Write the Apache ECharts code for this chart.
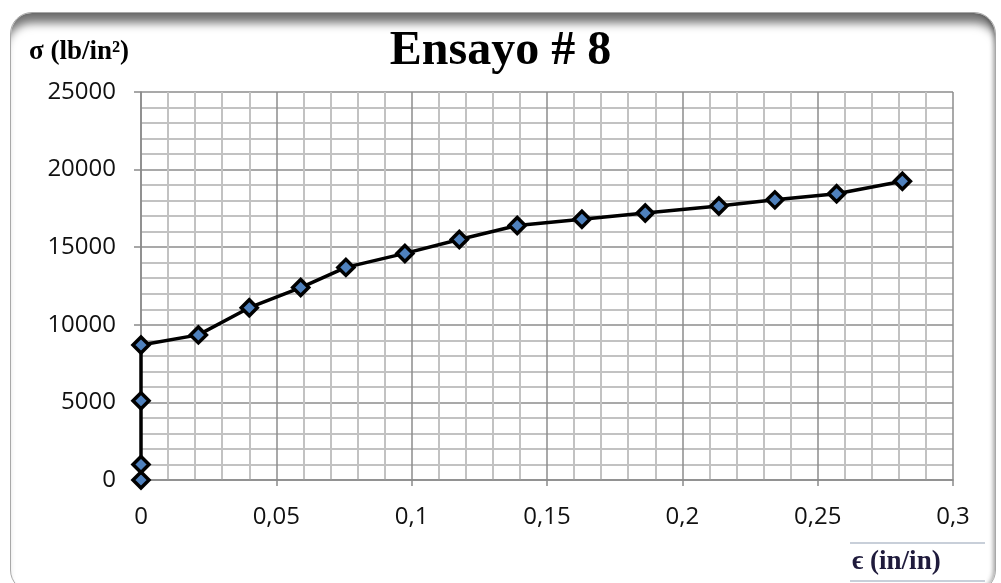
<!DOCTYPE html>
<html>
<head>
<meta charset="utf-8">
<script src="https://cdn.jsdelivr.net/npm/echarts@6/dist/echarts.min.js"></script>
<style>
  html, body { margin: 0; padding: 0; background: #fff; }
  #frame {
    position: absolute; left: 10px; top: 12px; width: 986px; height: 580px;
    border: 1.5px solid #a8a8a8; border-radius: 22px; box-sizing: border-box;
    box-shadow: inset 0 16px 10px -6px rgba(0,0,0,0.55), inset -3px 0 4px -1px rgba(0,0,0,0.3);
  }
  #chart { position: absolute; left: 0; top: 0; width: 1001px; height: 583px; }
</style>
</head>
<body>
<div id="frame"></div>
<div id="chart"></div>
<script>
const titleText = 'Ensayo # 8';
const yName = 'σ (lb/in²)';
const xName = 'ϵ (in/in)';
const strain = [0, 0, 0, 0, 0.0212, 0.0400, 0.0590, 0.0757, 0.0975, 0.1176, 0.1390, 0.1629, 0.1863, 0.2135, 0.2342, 0.2570, 0.2813];
const stress = [0, 1000, 5100, 8700, 9350, 11100, 12400, 13700, 14600, 15500, 16400, 16800, 17200, 17650, 18050, 18450, 19250];

const chart = echarts.init(document.getElementById('chart'), null, { renderer: 'canvas' });
const labelFont = { fontFamily: 'Open Sans', fontSize: 24, color: '#111' };
chart.setOption({
  animation: false,
  backgroundColor: 'transparent',
  grid: { left: 141, right: 48, top: 92, bottom: 103, containLabel: false },
  xAxis: {
    type: 'value', min: 0, max: 0.3, interval: 0.05,
    axisLine: { show: true, onZero: false, lineStyle: { color: '#8a8a8a', width: 1.5 } },
    axisTick: { show: true, length: 6, lineStyle: { color: '#8a8a8a', width: 1.5 } },
    axisLabel: Object.assign({ margin: 25, formatter: v => String(+v.toFixed(2)).replace('.', ',') }, labelFont),
    splitLine: { show: true, lineStyle: { color: '#8c8c8c', width: 1.5 } },
    minorTick: { show: false, splitNumber: 5 },
    minorSplitLine: { show: true, lineStyle: { color: '#c2c2c2', width: 2 } }
  },
  yAxis: {
    type: 'value', min: 0, max: 25000, interval: 5000,
    axisLine: { show: true, lineStyle: { color: '#8a8a8a', width: 1.5 } },
    axisTick: { show: true, length: 7, lineStyle: { color: '#8a8a8a', width: 1.5 } },
    axisLabel: Object.assign({ margin: 25, formatter: v => String(v) }, labelFont),
    splitLine: { show: true, lineStyle: { color: '#8c8c8c', width: 1.5 } },
    minorTick: { show: false, splitNumber: 5 },
    minorSplitLine: { show: true, lineStyle: { color: '#c2c2c2', width: 2 } }
  },
  series: [{
    type: 'line',
    data: strain.map((x, i) => [x, stress[i]]),
    lineStyle: { color: '#000', width: 3.5 },
    symbol: 'diamond', symbolSize: 16,
    itemStyle: { color: '#4F81BD', borderColor: '#000', borderWidth: 3.5 },
    z: 5
  }],
  graphic: [
    { type: 'text', left: 'center', top: 28, style: { text: titleText, fontFamily: 'Liberation Serif', fontWeight: 'bold', fontSize: 48, fill: '#000' } },
    { type: 'text', left: 29, top: 39, style: { text: yName, fontFamily: 'Liberation Serif', fontWeight: 'bold', fontSize: 27, fill: '#000' } },
    { type: 'line', shape: { x1: 850, y1: 543, x2: 985, y2: 543 }, style: { stroke: '#c8cfd9', lineWidth: 2 } },
    { type: 'line', shape: { x1: 850, y1: 581, x2: 985, y2: 581 }, style: { stroke: '#c8cfd9', lineWidth: 2 } },
    { type: 'text', left: 852, top: 549, style: { text: xName, fontFamily: 'Liberation Serif', fontWeight: 'bold', fontSize: 27, fill: '#1f1b3c' } }
  ]
});
</script>
</body>
</html>
